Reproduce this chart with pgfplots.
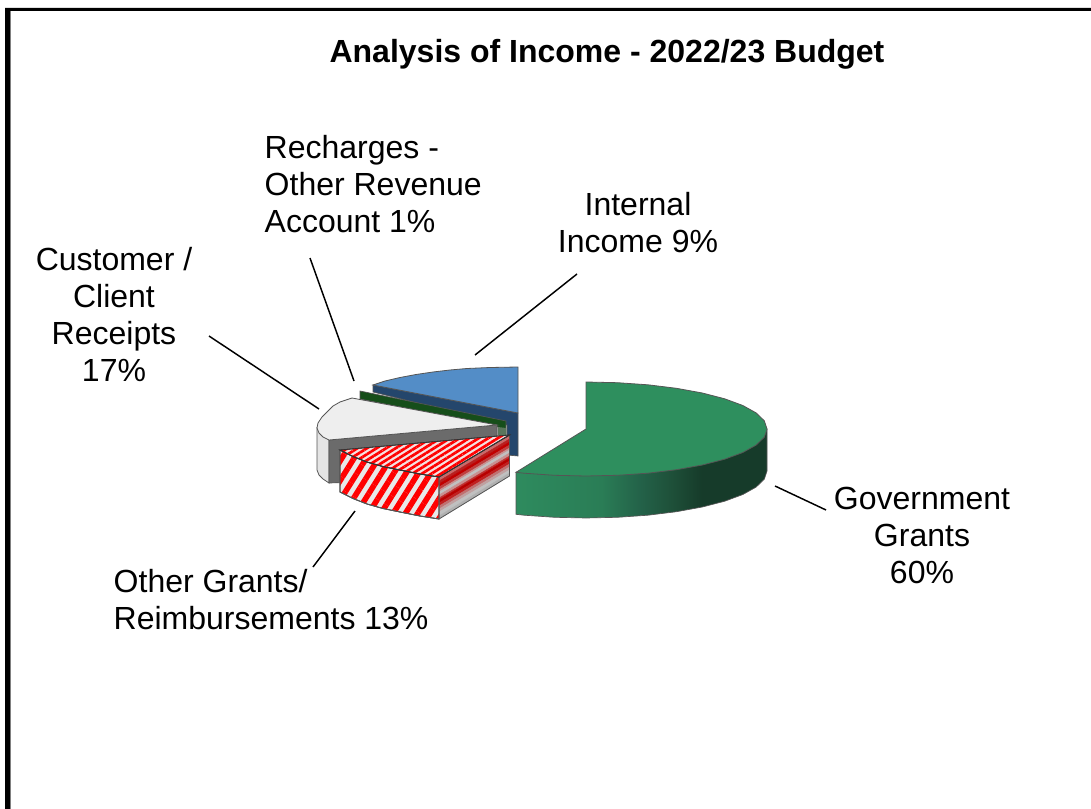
\documentclass[border=0pt]{standalone}
\usepackage{fontspec}
\setmainfont{Liberation Sans}
\usepackage{pgfplots}
\pgfplotsset{compat=1.18}
\usetikzlibrary{patterns.meta}

% Side wall of the largest slice, darkening towards the right
\definecolor{gA}{HTML}{2E8B5E}
\definecolor{gB}{HTML}{2A7D56}
\definecolor{gC}{HTML}{236148}
\definecolor{gD}{HTML}{1E5039}
\definecolor{gE}{HTML}{163B2A}
\pgfdeclarehorizontalshading{greenwall}{100bp}{
  color(0bp)=(gA); color(25bp)=(gA); color(42bp)=(gB); color(50bp)=(gC);
  color(56bp)=(gD); color(62bp)=(gE); color(100bp)=(gE)}

\definecolor{edge}{HTML}{555555}

% One colour band on the right wall of the striped slice
\newcommand{\wallband}[5]{%
  \addplot[fill={#1}, draw={#1}, line width=0.3pt] coordinates {(439,#2)(439,#3)(509.5,#5)(509.5,#4)} --cycle;}

\begin{document}
\begin{tikzpicture}
\begin{axis}[
  scale only axis, width=818.25pt, height=606.75pt,
  xmin=0, xmax=1091, ymin=0, ymax=809, y dir=reverse,
  hide axis, clip=true,
  every axis plot/.append style={forget plot},
]
% page and frame
\addplot[fill=white, draw=none] coordinates {(0,0)(1091,0)(1091,809)(0,809)} --cycle;
\addplot[fill=black, draw=none] coordinates {(5,8)(1091,8)(1091,11)(10,11)(10,809)(5,809)} --cycle;
\addplot[fill=gray, draw=none] coordinates {(10,11)(11,11)(11,809)(10,809)} --cycle;

% leader lines
\addplot[black, line width=1.1pt] coordinates {(310,258)(354,381)};
\addplot[black, line width=1.1pt] coordinates {(577,274)(475,355)};
\addplot[black, line width=1.1pt] coordinates {(209,336)(319,409)};
\addplot[black, line width=1.1pt] coordinates {(775,486)(826,510)};
\addplot[black, line width=1.1pt] coordinates {(355,511)(313,567)};

% Internal Income
\addplot[fill={rgb,255:red,36;green,70;blue,108}, draw=edge, line width=0.5pt] coordinates
  {(373,385)(373,392)(507,425)(507,455)(518,456)(518,413)} --cycle;
\addplot[fill={rgb,255:red,83;green,141;blue,199}, draw=edge, line width=0.6pt] coordinates
  {(518,367)(518,413)(373,385)(385,381)(400,377.5)(416,374.5)(433,372)(450,370)(467,368.5)(490,367.5)} --cycle;

% Recharges - Other Revenue Account
\addplot[fill={rgb,255:red,22;green,78;blue,26}, draw=edge, line width=0.5pt] coordinates
  {(360,391)(506,421)(506,435)(498,435)(498,427)(360,399)} --cycle;
\addplot[fill={rgb,255:red,90;green,118;blue,92}, draw=none] coordinates
  {(498,427)(506,428)(506,435)(498,435)} --cycle;

% Customer / Client Receipts
\addplot[fill={rgb,255:red,228;green,228;blue,228}, draw=edge, line width=0.6pt] coordinates
  {(317,428)(317,470)(319,475)(323,479)(329,483)(329,440)} --cycle;
\addplot[fill={rgb,255:red,107;green,107;blue,107}, draw=edge, line width=0.5pt] coordinates
  {(329,440)(497,425)(497,440)(440,480)(329,483)} --cycle;
\addplot[fill={rgb,255:red,238;green,238;blue,238}, draw=edge, line width=0.6pt] coordinates
  {(352,398)(497,425)(329,440)(323,437)(319,433)(317,428)(318,423)(322,417)(327,412)(333,406)(340,402)} --cycle;

% Other Grants / Reimbursements: right wall, front wall, top
\wallband{rgb,255:red,200;green,106;blue,106}{477}{481}{435}{439}
\wallband{rgb,255:red,184;green,32;blue,32}{481}{484}{439}{442}
\wallband{rgb,255:red,192;green,0;blue,0}{484}{487}{442}{445}
\wallband{rgb,255:red,192;green,64;blue,64}{487}{490}{445}{448}
\wallband{rgb,255:red,200;green,144;blue,144}{490}{492}{448}{450}
\wallband{rgb,255:red,192;green,192;blue,192}{492}{495}{450}{453}
\wallband{rgb,255:red,200;green,144;blue,144}{495}{498}{453}{456}
\wallband{rgb,255:red,192;green,48;blue,48}{498}{500}{456}{458}
\wallband{rgb,255:red,184;green,0;blue,0}{500}{503}{458}{461}
\wallband{rgb,255:red,192;green,32;blue,32}{503}{506}{461}{464}
\wallband{rgb,255:red,192;green,112;blue,112}{506}{509}{464}{467}
\wallband{rgb,255:red,192;green,160;blue,160}{509}{512}{467}{470}
\wallband{rgb,255:red,192;green,192;blue,192}{512}{516}{470}{473}
\wallband{rgb,255:red,176;green,176;blue,176}{516}{519}{473}{476}
\addplot[draw=edge, line width=0.6pt] coordinates {(439,519)(509.5,476)(509.5,435)};

\addplot[fill={rgb,255:red,232;green,232;blue,232}, draw=edge, line width=0.6pt,
  postaction={pattern={Lines[angle=58, distance=7.8pt, line width=4.2pt]}, pattern color=red}]
  coordinates {(340,450)(353,456.5)(367,462)(383,466.5)(400,470)(420,474)(439,477)
   (439,519)(420,516)(400,512)(383,508.5)(367,504)(353,498.5)(340,492)} --cycle;
\addplot[draw=edge, line width=0.6pt] coordinates {(340,450)(340,492)(353,498.5)(367,504)(383,508.5)(400,512)(420,516)(439,519)(439,477)};

\addplot[fill={rgb,255:red,245;green,225;blue,225}, draw=black!80, line width=0.6pt,
  postaction={pattern={Lines[angle=32, distance=3.8pt, line width=2pt]}, pattern color=red}]
  coordinates {(340,450)(509.5,435)(439,477)(420,474)(400,470)(383,466.5)(367,462)(353,456.5)} --cycle;
\addplot[draw=black!80, line width=0.6pt] coordinates {(340,450)(353,456.5)(367,462)(383,466.5)(400,470)(420,474)(439,477)(509.5,435)};

% Government Grants: side wall, then top
\addplot[shading=greenwall, draw=edge, line width=0.5pt] coordinates
  {(516,472.3)(516,514.3)(524.1,515.2)(554.6,517.3)(586,518)(617.4,517.3)(647.9,515.2)(676.5,511.7)
   (702.3,507)(724.7,501.2)(742.8,494.5)(756.1,487.1)(764.3,479.2)(767,471)(767,429)} --cycle;
\addplot[fill={rgb,255:red,46;green,143;blue,94}, draw=edge, line width=0.6pt] coordinates
  {(586,382)(617.4,382.7)(647.9,384.8)(676.5,388.3)(702.3,393)(724.7,398.8)(742.8,405.5)(756.1,412.9)
   (764.3,420.8)(767,429)(764.3,437.2)(756.1,445.1)(742.8,452.5)(724.7,459.2)(702.3,465)(676.5,469.7)
   (647.9,473.2)(617.4,475.3)(586,476)(554.6,475.3)(524.1,473.2)(516,472.3)(586,429)} --cycle;

% title and slice labels
\node[font=\fontsize{24}{28}\bfseries\selectfont, anchor=center] at (axis cs:607,54)
  {Analysis of Income - 2022/23 Budget};
\node[font=\fontsize{24}{27.75}\selectfont, align=left, anchor=west] at (axis cs:260,184)
  {Recharges -\\Other Revenue\\Account 1\%};
\node[font=\fontsize{24}{27.75}\selectfont, align=center, anchor=center] at (axis cs:638,223)
  {Internal\\Income 9\%};
\node[font=\fontsize{24}{27.75}\selectfont, align=center, anchor=center] at (axis cs:114,314)
  {Customer /\\Client\\Receipts\\17\%};
\node[font=\fontsize{24}{27.75}\selectfont, align=center, anchor=center] at (axis cs:922,535)
  {Government\\Grants\\60\%};
\node[font=\fontsize{24}{27.75}\selectfont, align=left, anchor=west] at (axis cs:109,600)
  {Other Grants/\\Reimbursements 13\%};
\end{axis}
\end{tikzpicture}
\end{document}
